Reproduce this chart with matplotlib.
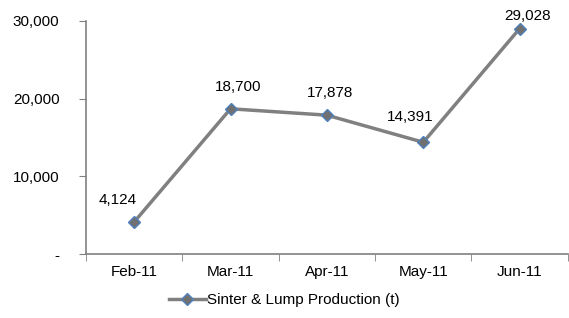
import matplotlib
matplotlib.use('Agg')
from matplotlib import pyplot as plt
from matplotlib.ticker import FuncFormatter

months = ['Feb-11', 'Mar-11', 'Apr-11', 'May-11', 'Jun-11']
production = [4124, 18700, 17878, 14391, 29028]
# label offsets in pixels (dx, dy)
label_offsets = [(-16, 22), (8, 22), (3, 22), (-13, 25), (8, 13)]

plt.rcParams['font.family'] = ['Liberation Sans', 'DejaVu Sans']
plt.rcParams['font.size'] = 11

fig = plt.figure(figsize=(5.69, 3.18), dpi=100)
ax = fig.add_axes([0.151, 0.201, 0.847, 0.733])

x = list(range(len(months)))
ax.plot(x, production, color='#808080', linewidth=2.5, marker='D', markersize=6,
        markerfacecolor='#707070', markeredgecolor='#4F81BD', markeredgewidth=1,
        label='Sinter & Lump Production (t)')

for xi, v, (dx, dy) in zip(x, production, label_offsets):
    ax.annotate(f'{v:,}', (xi, v), xytext=(dx * 0.72, dy * 0.72), textcoords='offset points',
                ha='center', va='center')

ax.set_xlim(-0.5, len(months) - 0.5)
ax.set_ylim(0, 30000)
ax.set_yticks([0, 10000, 20000, 30000])
ax.yaxis.set_major_formatter(FuncFormatter(lambda v, p: '-' if v == 0 else f'{int(v):,}'))
ax.set_xticks(x)
ax.set_xticklabels(months)
ax.set_xticks([i - 0.5 for i in range(len(months) + 1)], minor=True)
ax.tick_params(axis='x', which='major', length=0, pad=8)
ax.tick_params(axis='x', which='minor', length=5, color='#808080', direction='out')
ax.tick_params(axis='y', length=5, color='#808080', pad=14)

for s in ['top', 'right']:
    ax.spines[s].set_visible(False)
for s in ['left', 'bottom']:
    ax.spines[s].set_color('#808080')
    ax.spines[s].set_linewidth(1.2)

fig.legend(loc='lower center', bbox_to_anchor=(0.5, -0.01), frameon=False,
           handlelength=2.4, handletextpad=0.1)

plt.savefig('out.png', dpi=100)
